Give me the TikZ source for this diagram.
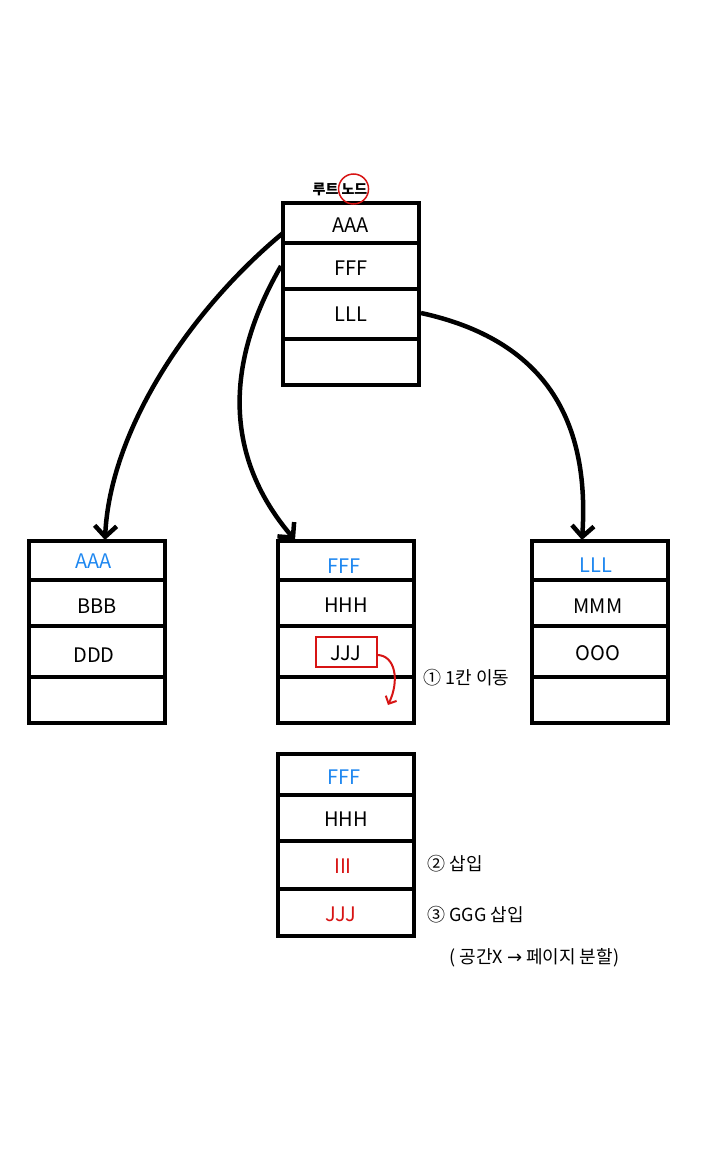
\documentclass[tikz,border=0pt]{standalone}
\usepackage{fontspec}
\setmainfont{Noto Sans CJK KR}
\newfontfamily\dejavu{DejaVu Sans}
\usetikzlibrary{arrows.meta}
\definecolor{kblue}{RGB}{30,135,240}
\definecolor{kred}{RGB}{215,20,20}
\tikzset{
  box/.style={draw, line width=4.5pt, minimum width=136pt, minimum height=182pt, inner sep=0pt},
  cell/.style={font=\fontsize{20}{22}\selectfont},
  sep/.style={line width=4.5pt},
  arr/.style={line width=4.5pt, -{Straight Barb[length=11pt,width=22pt,line width=4.5pt]}},
  note/.style={font=\fontsize{18}{20}\selectfont, anchor=west},
}
\begin{document}
\begin{tikzpicture}[x=1pt,y=-1pt]
\useasboundingbox (0,0) rectangle (727,1154);
% root
\node[box] (root) at (351,294) {};
\draw[sep] (283,243) -- (419,243) (283,289) -- (419,289) (283,339) -- (419,339);
\node[cell] (r1) at (351,225) {AAA};
\node[cell] (r2) at (351,268) {FFF};
\node[cell] (r3) at (351,314) {LLL};
\node[font=\fontsize{14}{16}\selectfont\bfseries, inner sep=0pt] (rootlbl) at (340,189) {루트 노드};
\draw[kred, line width=1.5pt] ([xshift=-14pt]rootlbl.east) circle (15);
% left
\node[box] (left) at (97,632) {};
\draw[sep] (29,580) -- (165,580) (29,626) -- (165,626) (29,677) -- (165,677);
\node[cell, text=kblue] (l1) at (94,561) {AAA};
\node[cell] (l2) at (97,606) {BBB};
\node[cell] (l3) at (94,655) {DDD};
% middle
\node[box] (mid) at (346,632) {};
\draw[sep] (278,580) -- (414,580) (278,626) -- (414,626) (278,677) -- (414,677);
\node[cell, text=kblue] (m1) at (344,566) {FFF};
\node[cell] (m2) at (346,605) {HHH};
\node[cell] (m3) at (346,653) {JJJ};
\draw[kred, line width=2pt] (316,637) rectangle (377,667);
\coordinate (ms) at (377,655);
\coordinate (me) at (388,705);
\draw[kred, line width=2pt, -{Straight Barb[length=6pt,width=12pt,line width=2pt]}] (ms) .. controls (395,655) and (400,680) .. (me);
\node[note] (n1) at (420,678) {① 1칸 이동};
% right
\node[box] (right) at (600,632) {};
\draw[sep] (532,580) -- (668,580) (532,626) -- (668,626) (532,677) -- (668,677);
\node[cell, text=kblue] (q1) at (596,565) {LLL};
\node[cell] (q2) at (598,606) {MMM};
\node[cell] (q3) at (598,653) {OOO};
% bottom
\node[box] (bot) at (346,845) {};
\draw[sep] (278,795) -- (414,795) (278,841) -- (414,841) (278,889) -- (414,889);
\node[cell, text=kblue] (b1) at (344,777) {FFF};
\node[cell] (b2) at (346,819) {HHH};
\node[cell, text=kred] (b3) at (343,866) {III};
\node[cell, text=kred] (b4) at (341,914) {JJJ};
\node[note] (n2) at (424,864) {② 삽입};
\node[note] (n3) at (424,915) {③ GGG 삽입};
\node[note] (n4) at (446,958) {( 공간X {\dejavu →} 페이지 분할)};
% arrows
\coordinate (a1s) at (283,233);
\coordinate (a1e) at (105,540);
\coordinate (a2s) at (281,266);
\coordinate (a2e) at (295,540);
\coordinate (a3s) at (421,313);
\coordinate (a3e) at (582,540);
\draw[arr] (a1s) .. controls (190,310) and (110,430) .. (a1e);
\draw[arr] (a2s) .. controls (215,380) and (235,470) .. (a2e);
\draw[arr] (a3s) .. controls (545,340) and (590,420) .. (a3e);
\end{tikzpicture}
\end{document}
